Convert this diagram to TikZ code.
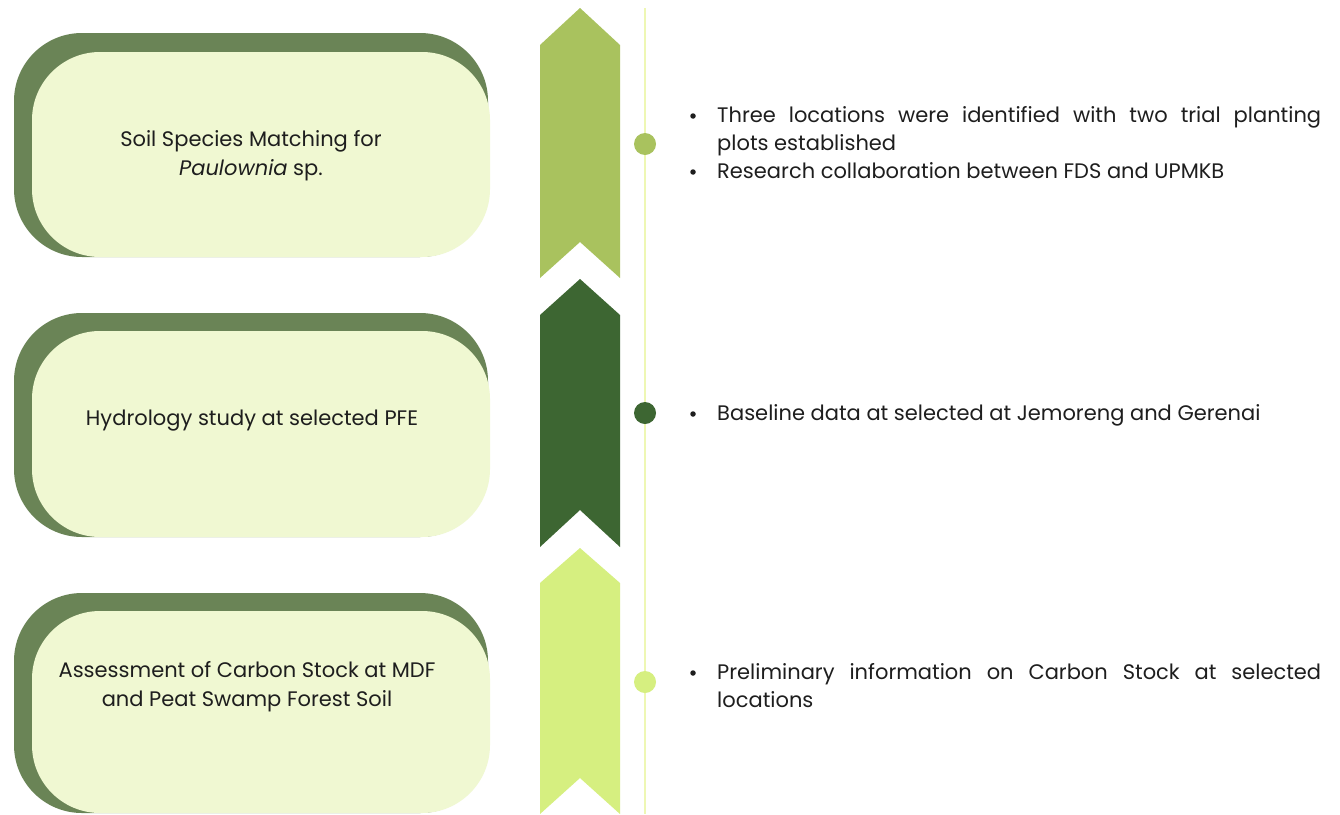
\documentclass[tikz,border=0pt]{standalone}
\usepackage{fontspec}
\setmainfont{Poppins}
\definecolor{boxdark}{HTML}{6A8456}
\definecolor{boxlight}{HTML}{F0F8D2}
\definecolor{chevA}{HTML}{A9C25E}
\definecolor{chevB}{HTML}{3D6632}
\definecolor{chevC}{HTML}{D6EF80}
\definecolor{vline}{HTML}{EEF7B4}
\definecolor{txt}{HTML}{1E1E1E}
\begin{document}
\begin{tikzpicture}[x=1pt,y=-1pt,
  darkbox/.style={fill=boxdark, rounded corners=68pt},
  lightbox/.style={fill=boxlight, rounded corners=68pt},
  ltext/.style={align=center, text=txt, inner sep=0pt, font=\fontsize{21}{29}\selectfont},
  rtext/.style={anchor=base west, text width=604pt, align=justify, text=txt, inner sep=0pt, font=\fontsize{21}{28}\selectfont},
  bul/.style={circle, fill=txt, inner sep=0pt, minimum size=5.5pt},
  dot/.style={circle, inner sep=0pt, minimum size=22pt}]
\useasboundingbox (0,0) rectangle (1340,814);
\fill[white] (0,0) rectangle (1340,814);
% boxes
\fill[darkbox] (14,33) rectangle (488,257);
\fill[lightbox] (32,52) rectangle (490,257);
\fill[darkbox] (14,313) rectangle (488,537);
\fill[lightbox] (32,331) rectangle (490,537);
\fill[darkbox] (14,593) rectangle (488,813);
\fill[lightbox] (32,611) rectangle (490,813);
\node[ltext] (b1) at (251,156) {Soil Species Matching for\\\textit{Paulownia} sp.};
\node[ltext] (b2) at (252,421) {Hydrology study at selected PFE};
\node[ltext] (b3) at (247,687) {Assessment of Carbon Stock at MDF\\and Peat Swamp Forest Soil};
% chevrons
\fill[chevA] (540,45) -- (580,8) -- (620,45) -- (620,278) -- (580,242) -- (540,278) -- cycle;
\fill[chevB] (540,315) -- (580,279) -- (620,315) -- (620,547) -- (580,510) -- (540,547) -- cycle;
\fill[chevC] (540,583) -- (580,548) -- (620,583) -- (620,814) -- (580,778) -- (540,814) -- cycle;
% timeline
\coordinate (top) at (645,8);
\coordinate (bot) at (645,814);
\draw[vline, line width=2pt] (top) -- (bot);
\node[dot, fill=chevA] (d1) at (645,144) {};
\node[dot, fill=chevB] (d2) at (645,413) {};
\node[dot, fill=chevC] (d3) at (645,682) {};
% right texts
\node[bul] (u1) at (693,116) {};
\node[rtext] (r1) at (717,122) {Three locations were identified with two trial planting\linebreak plots established};
\node[bul] (u2) at (693,172) {};
\node[rtext] (r2) at (717,178) {Research collaboration between FDS and UPMKB};
\node[bul] (u3) at (693,414) {};
\node[rtext] (r3) at (717,420) {Baseline data at selected at Jemoreng and Gerenai};
\node[bul] (u4) at (693,673) {};
\node[rtext] (r4) at (717,679) {Preliminary information on Carbon Stock at selected\linebreak locations};
\end{tikzpicture}
\end{document}
